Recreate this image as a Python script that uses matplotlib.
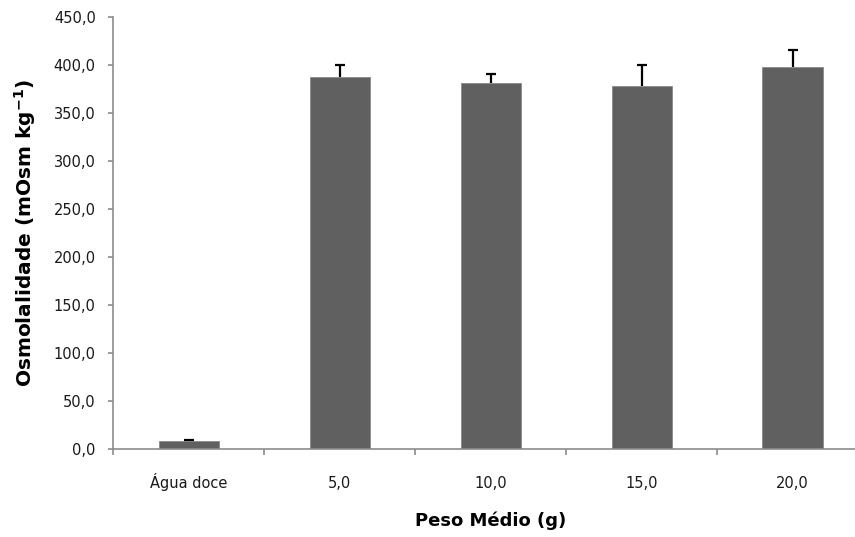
import matplotlib
matplotlib.use('Agg')
import matplotlib.pyplot as plt
import numpy as np

# data
categories = ['Água doce', '5,0', '10,0', '15,0', '20,0']
means = np.array([8.3, 387.2, 381.0, 377.8, 397.9])
errors = np.array([1.2, 13.0, 10.0, 22.5, 18.0])

fig = plt.figure(figsize=(8.55, 5.37), dpi=100)
# plot area runs past the right edge, like the cropped original
ax = fig.add_axes([0.1325, 0.1639, 0.8829, 0.8044])

x = np.arange(len(categories))
ax.bar(x, means, width=0.4, color='#606060', edgecolor='#8a8a8a', linewidth=0.6, zorder=2)

# upper-only error bars (no cap at the bar top)
cap = 0.034
ax.vlines(x, means, means + errors, color='black', linewidth=1.6, zorder=3)
ax.hlines(means + errors, x - cap, x + cap, color='black', linewidth=1.6, zorder=3)

ax.set_xlim(-0.5, len(categories) - 0.5)
ax.set_ylim(0, 450)
ticks = np.arange(0, 451, 50)
ax.set_yticks(ticks)
ax.set_yticklabels([f'{v:.1f}'.replace('.', ',') for v in ticks],
                   fontfamily='DejaVu Sans', fontsize=10.5, color='#1a1a1a')

ax.set_xticks(x)
ax.set_xticklabels(categories, fontfamily='DejaVu Sans', fontsize=10.5, color='#1a1a1a',
                   va='baseline')
ax.tick_params(axis='x', which='major', length=0, pad=28)
ax.set_xticks(np.arange(-0.5, len(categories), 1.0), minor=True)
ax.tick_params(axis='x', which='minor', length=4.3, width=1.2, color='#8c8c8c')
ax.tick_params(axis='y', length=3.6, width=1.2, color='#8c8c8c', pad=9)

for s in ['top', 'right']:
    ax.spines[s].set_visible(False)
for s in ['left', 'bottom']:
    ax.spines[s].set_color('#8c8c8c')
    ax.spines[s].set_linewidth(1.2)

ax.set_xlabel('Peso Médio (g)', fontfamily='DejaVu Sans', fontweight='bold', fontsize=13)
ax.set_ylabel('Osmolalidade (mOsm kg$^{\\mathbf{-1}}$)', fontfamily='DejaVu Sans',
              fontweight='bold', fontsize=14.5)
ax.xaxis.set_label_coords(0.5, -0.167)
ax.yaxis.set_label_coords(-0.117, 0.5)
ax.xaxis.label.set_va('center')
ax.yaxis.label.set_va('center')

fig.savefig('out.png', dpi=100)
